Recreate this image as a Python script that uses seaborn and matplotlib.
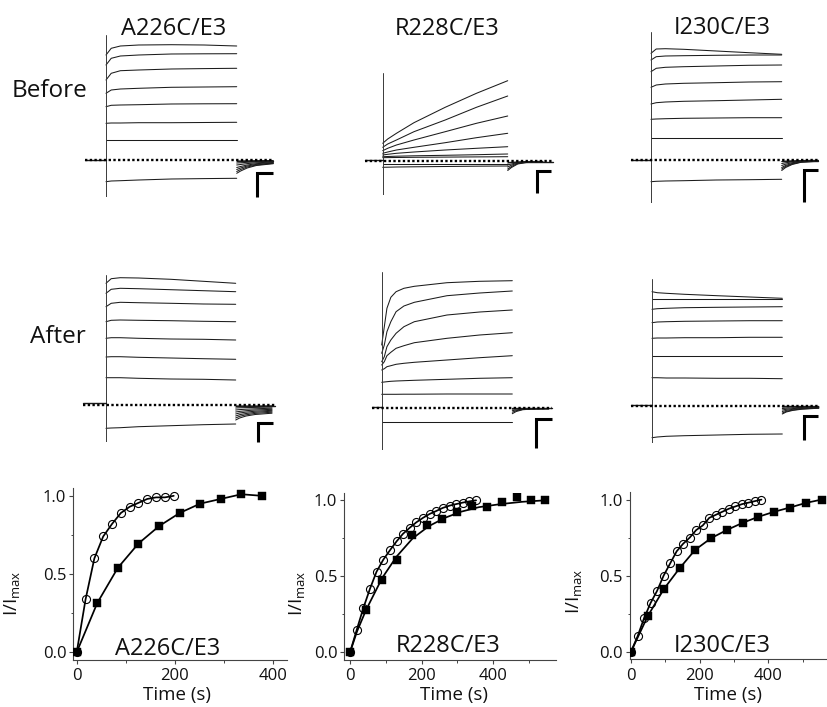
import matplotlib
matplotlib.use("Agg")
import matplotlib.pyplot as plt
import numpy as np
import pandas as pd
import seaborn as sns

# ---------------- data ----------------
MUTANTS = ["A226C/E3", "R228C/E3", "I230C/E3"]
CONDITIONS = ["Before", "After"]

# sample times of the current traces (ms)
STEP_T = [0, 40, 110, 250, 500, 750, 1000]
STEP_T_FINE = [0, 20, 40, 70, 110, 170, 250, 500, 750, 1000]
TAIL_T = [1000, 1030, 1080, 1150, 1280]

# current traces (arbitrary units, 0 = zero-current level)
A226C_BEFORE_STEPS = [
    [10.5, 11.17, 11.4, 11.5, 11.53, 11.5, 11.4],
    [9.5, 10.17, 10.4, 10.5, 10.6, 10.62, 10.63],
    [8.0, 8.67, 8.93, 9.0, 9.1, 9.14, 9.17],
    [6.67, 7.0, 7.1, 7.17, 7.27, 7.3, 7.33],
    [5.33, 5.47, 5.5, 5.53, 5.6, 5.62, 5.63],
    [3.67, 3.7, 3.7, 3.73, 3.73, 3.75, 3.77],
    [2.0, 2.0, 2.0, 2.0, 2.0, 2.0, 2.0],
    [-2.17, -2.1, -2.07, -2.0, -1.9, -1.86, -1.83],
]
A226C_BEFORE_TAILS = [
    [-0.1, -0.1, -0.08, -0.06, -0.05],
    [-0.3, -0.28, -0.23, -0.18, -0.12],
    [-0.5, -0.45, -0.36, -0.28, -0.2],
    [-0.75, -0.65, -0.5, -0.37, -0.25],
    [-0.95, -0.8, -0.6, -0.44, -0.3],
    [-1.15, -0.95, -0.7, -0.5, -0.33],
    [-1.33, -1.1, -0.8, -0.55, -0.37],
]
R228C_BEFORE_STEPS = [
    [1.77, 2.2, 2.77, 3.83, 5.37, 6.77, 8.03],
    [1.37, 1.7, 2.1, 2.93, 4.1, 5.37, 6.5],
    [1.03, 1.27, 1.6, 2.1, 2.93, 3.77, 4.5],
    [0.77, 0.9, 1.1, 1.37, 1.83, 2.33, 2.77],
    [0.6, 0.67, 0.77, 0.9, 1.1, 1.27, 1.43],
    [0.43, 0.45, 0.48, 0.52, 0.57, 0.63, 0.7],
    [0.33, 0.34, 0.35, 0.37, 0.39, 0.41, 0.43],
    [-0.3, -0.3, -0.3, -0.3, -0.3, -0.3, -0.3],
    [-0.63, -0.62, -0.6, -0.58, -0.55, -0.52, -0.5],
]
R228C_BEFORE_TAILS = [
    [-0.2, -0.15, -0.1, -0.05, -0.03],
    [-0.4, -0.3, -0.15, -0.08, -0.05],
    [-0.6, -0.42, -0.2, -0.1, -0.06],
    [-0.8, -0.55, -0.25, -0.12, -0.08],
    [-0.95, -0.65, -0.3, -0.15, -0.1],
]
I230C_BEFORE_STEPS = [
    [10.67, 11.1, 11.13, 11.07, 10.9, 10.73, 10.57],
    [10.0, 10.33, 10.4, 10.43, 10.47, 10.5, 10.5],
    [8.83, 9.17, 9.27, 9.33, 9.4, 9.47, 9.5],
    [7.27, 7.5, 7.6, 7.67, 7.73, 7.8, 7.83],
    [5.6, 5.73, 5.8, 5.87, 5.93, 6.0, 6.07],
    [4.07, 4.1, 4.13, 4.17, 4.2, 4.23, 4.23],
    [2.23, 2.23, 2.23, 2.23, 2.23, 2.23, 2.23],
    [-2.17, -2.13, -2.1, -2.07, -2.0, -1.97, -1.93],
]
I230C_BEFORE_TAILS = [
    [-0.15, -0.12, -0.08, -0.05, -0.03],
    [-0.35, -0.28, -0.18, -0.1, -0.06],
    [-0.55, -0.42, -0.27, -0.15, -0.08],
    [-0.75, -0.55, -0.35, -0.18, -0.1],
    [-0.9, -0.65, -0.4, -0.2, -0.12],
    [-1.05, -0.75, -0.45, -0.22, -0.13],
]
A226C_AFTER_STEPS = [
    [12.17, 12.63, 12.73, 12.7, 12.57, 12.37, 12.17],
    [11.17, 11.57, 11.67, 11.63, 11.53, 11.43, 11.33],
    [9.83, 10.17, 10.27, 10.23, 10.17, 10.1, 10.07],
    [8.33, 8.47, 8.5, 8.47, 8.43, 8.37, 8.33],
    [6.67, 6.73, 6.73, 6.67, 6.6, 6.57, 6.5],
    [4.8, 4.83, 4.83, 4.77, 4.7, 4.63, 4.57],
    [2.73, 2.73, 2.73, 2.67, 2.6, 2.57, 2.5],
    [-2.33, -2.3, -2.27, -2.17, -2.07, -1.97, -1.9],
]
A226C_AFTER_TAILS = [
    [-0.1, -0.1, -0.1, -0.1, -0.08],
    [-0.3, -0.28, -0.26, -0.24, -0.2],
    [-0.5, -0.46, -0.42, -0.38, -0.32],
    [-0.7, -0.64, -0.57, -0.5, -0.43],
    [-0.9, -0.8, -0.71, -0.62, -0.53],
    [-1.1, -0.97, -0.85, -0.73, -0.62],
    [-1.3, -1.13, -0.98, -0.84, -0.72],
    [-1.5, -1.3, -1.1, -0.95, -0.82],
]
R228C_AFTER_STEPS = [  # sampled at STEP_T_FINE
    [6.27, 8.1, 9.94, 11.04, 11.6, 11.94, 12.14, 12.5, 12.64, 12.7],
    [5.44, 6.27, 7.6, 8.6, 9.6, 10.17, 10.54, 11.2, 11.47, 11.67],
    [4.6, 5.1, 6.1, 6.77, 7.44, 8.1, 8.6, 9.27, 9.57, 9.77],
    [4.27, 4.6, 5.2, 5.54, 5.94, 6.2, 6.5, 6.94, 7.27, 7.5],
    [3.77, 3.9, 4.1, 4.2, 4.34, 4.44, 4.54, 4.77, 5.0, 5.2],
    [2.54, 2.57, 2.6, 2.64, 2.67, 2.7, 2.74, 2.84, 2.94, 3.0],
    [1.34, 1.34, 1.34, 1.34, 1.34, 1.35, 1.35, 1.37, 1.37, 1.37],
    [-1.4, -1.4, -1.4, -1.4, -1.4, -1.4, -1.4, -1.4, -1.4, -1.4],
]
R228C_AFTER_TAILS = [
    [-0.15, -0.12, -0.1, -0.1, -0.1],
    [-0.3, -0.22, -0.14, -0.12, -0.1],
    [-0.45, -0.3, -0.17, -0.13, -0.1],
    [-0.6, -0.38, -0.2, -0.14, -0.1],
]
I230C_AFTER_STEPS = [
    [11.43, 11.33, 11.27, 11.17, 11.03, 10.9, 10.77],
    [10.7, 10.7, 10.7, 10.7, 10.7, 10.7, 10.7],
    [9.67, 9.73, 9.77, 9.83, 9.87, 9.9, 9.93],
    [8.33, 8.4, 8.43, 8.47, 8.5, 8.53, 8.53],
    [6.77, 6.8, 6.8, 6.83, 6.83, 6.87, 6.87],
    [5.0, 5.0, 5.0, 5.0, 5.0, 5.0, 5.0],
    [2.83, 2.83, 2.8, 2.8, 2.77, 2.77, 2.73],
    [-3.17, -3.1, -3.03, -2.97, -2.9, -2.83, -2.8],
]
I230C_AFTER_TAILS = [
    [-0.1, -0.1, -0.08, -0.07, -0.05],
    [-0.25, -0.22, -0.18, -0.14, -0.1],
    [-0.4, -0.33, -0.26, -0.2, -0.15],
    [-0.55, -0.44, -0.33, -0.25, -0.18],
    [-0.7, -0.54, -0.4, -0.29, -0.2],
    [-0.8, -0.6, -0.44, -0.32, -0.22],
]

TRACES = {
    ("A226C/E3", "Before"): (STEP_T, A226C_BEFORE_STEPS, A226C_BEFORE_TAILS),
    ("R228C/E3", "Before"): (STEP_T, R228C_BEFORE_STEPS, R228C_BEFORE_TAILS),
    ("I230C/E3", "Before"): (STEP_T, I230C_BEFORE_STEPS, I230C_BEFORE_TAILS),
    ("A226C/E3", "After"): (STEP_T, A226C_AFTER_STEPS, A226C_AFTER_TAILS),
    ("R228C/E3", "After"): (STEP_T_FINE, R228C_AFTER_STEPS, R228C_AFTER_TAILS),
    ("I230C/E3", "After"): (STEP_T, I230C_AFTER_STEPS, I230C_AFTER_TAILS),
}

# time courses of modification (I/Imax)
A226C_CIRC_T = [0, 18, 36, 54, 72, 90, 108, 126, 144, 162, 180, 198]
A226C_CIRC_Y = [0, 0.337, 0.60, 0.74, 0.82, 0.89, 0.93, 0.955, 0.98, 0.99, 0.99, 1.0]
A226C_SQ_T = [0, 42, 84, 126, 168, 210, 252, 294, 336, 378]
A226C_SQ_Y = [0, 0.315, 0.54, 0.695, 0.806, 0.89, 0.95, 0.98, 1.01, 1.0]

R228C_CIRC_T = [0, 19, 37, 56, 74, 93, 111, 130, 148, 167, 185, 204, 222, 241, 259, 278, 296, 315, 333, 352]
R228C_CIRC_Y = [0, 0.15, 0.29, 0.42, 0.53, 0.61, 0.67, 0.73, 0.78, 0.82, 0.855, 0.885, 0.91, 0.93,
                0.95, 0.965, 0.975, 0.985, 0.993, 1.0]
R228C_SQ_T = [0, 45, 88, 130, 172, 215, 258, 300, 340, 382, 425, 465, 505, 545]
R228C_SQ_Y = [0, 0.28, 0.475, 0.605, 0.77, 0.835, 0.878, 0.92, 0.96, 0.955, 0.99, 1.02, 1.0, 1.0]
R228C_SQ_FIT_T = [0, 20, 45, 90, 130, 175, 220, 265, 310, 360, 420, 480, 545]
R228C_SQ_FIT_Y = [0, 0.14, 0.28, 0.49, 0.63, 0.75, 0.83, 0.885, 0.925, 0.955, 0.975, 0.99, 1.0]

I230C_CIRC_T = [0, 19, 38, 57, 76, 95, 114, 133, 152, 171, 190, 209, 228, 247, 266, 285, 304, 323, 342, 361, 380]
I230C_CIRC_Y = [0, 0.10, 0.22, 0.32, 0.40, 0.50, 0.58, 0.66, 0.71, 0.75, 0.80, 0.83, 0.88, 0.90,
                0.92, 0.94, 0.955, 0.97, 0.98, 0.99, 1.0]
I230C_SQ_T = [0, 49, 96, 142, 187, 233, 279, 326, 371, 417, 463, 509, 555]
I230C_SQ_Y = [0, 0.235, 0.413, 0.55, 0.67, 0.746, 0.80, 0.848, 0.887, 0.92, 0.948, 0.978, 1.0]

TIME_COURSES = {
    "A226C/E3": (A226C_CIRC_T, A226C_CIRC_Y, A226C_SQ_T, A226C_SQ_Y, A226C_SQ_T, A226C_SQ_Y),
    "R228C/E3": (R228C_CIRC_T, R228C_CIRC_Y, R228C_SQ_T, R228C_SQ_Y, R228C_SQ_FIT_T, R228C_SQ_FIT_Y),
    "I230C/E3": (I230C_CIRC_T, I230C_CIRC_Y, I230C_SQ_T, I230C_SQ_Y, I230C_SQ_T, I230C_SQ_Y),
}
X_TICKS = [0, 200, 400]
Y_TICKS = [0.0, 0.5, 1.0]
Y_TICK_LABELS = ["0.0", "0.5", "1.0"]

# ---------------- layout (pixels of the 827x707 canvas) ----------------
W, H = 827, 707
PXU = 10.0  # pixels per current unit
TRACE_LAYOUT = {
    ("A226C/E3", "Before"): dict(x0=106, x1=236.7, top=35, bottom=197, base=160, hold=85, end=273,
                                 sb=(257, 172.7, 196.7, 272.7), hold_level=0.05),
    ("R228C/E3", "Before"): dict(x0=382.7, x1=507.7, top=72.7, bottom=195, base=161, hold=365, end=553,
                                 sb=(536.7, 171, 193.3, 550.7), hold_level=0.08),
    ("I230C/E3", "Before"): dict(x0=651, x1=781.7, top=31.7, bottom=203, base=160, hold=630.7, end=818,
                                 sb=(804.3, 170, 201.7, 818), hold_level=0.05),
    ("A226C/E3", "After"): dict(x0=106, x1=235.7, top=275, bottom=441.7, base=405, hold=82.7, end=275,
                                sb=(257.7, 423.3, 441.7, 273.3), hold_level=0.22),
    ("R228C/E3", "After"): dict(x0=381.7, x1=512.3, top=271.7, bottom=450, base=407.7, hold=371.7, end=551.7,
                                sb=(535.7, 419, 448.3, 551.7), hold_level=0.05),
    ("I230C/E3", "After"): dict(x0=652, x1=782.3, top=279.3, bottom=442.7, base=406, hold=630.7, end=818.3,
                                sb=(804.3, 415.7, 440, 818.3), hold_level=0.05),
}
TC_LAYOUT = {
    "A226C/E3": dict(rect=(73.3, 488, 286.7, 660), xlim=(-7, 428.6), minor=[100, 300],
                     label=(167.5, 655), xlabel=(176.7, 700), ylabel=(13, 593)),
    "R228C/E3": dict(rect=(344.3, 492.7, 556, 660), xlim=(-15.9, 575), minor=[100, 300, 500],
                     label=(447.7, 651.7), xlabel=(454, 700), ylabel=(298, 593)),
    "I230C/E3": dict(rect=(630, 492, 826, 659.3), xlim=(-2.9, 568), minor=[100, 300, 500],
                     label=(722.5, 651.7), xlabel=(728.3, 700), ylabel=(575, 591)),
}
TITLE_POS = {"A226C/E3": (174, 35), "R228C/E3": (447.5, 35), "I230C/E3": (722.5, 34)}
ROW_POS = {"Before": (50, 97.3), "After": (57.5, 343.3)}

# ---------------- style ----------------
sns.set_theme(style="ticks")
plt.rcParams["font.family"] = ["Open Sans", "DejaVu Sans"]
plt.rcParams["mathtext.fontset"] = "custom"
plt.rcParams["mathtext.rm"] = "Open Sans"
TXT = "#111111"
TRACE_C = "#1c1c1c"

fig = plt.figure(figsize=(W / 100, H / 100), dpi=100)
fig.patch.set_facecolor("white")


def fig_rect(l, t, r, b):
    return [l / W, 1 - b / H, (r - l) / W, (b - t) / H]


def ftext(x, y, s, **kw):
    fig.text(x / W, 1 - y / H, s, color=TXT, **kw)


# ---------------- current traces ----------------
for key, lay in TRACE_LAYOUT.items():
    times, steps, tails = TRACES[key]
    x0, x1, base = lay["x0"], lay["x1"], lay["base"]
    ms_per_px = 1000.0 / (x1 - x0)
    ax = fig.add_axes(fig_rect(x0, lay["top"], x1, lay["bottom"]))
    rows = []
    for i, tr in enumerate(steps):
        rows += [("s%d" % i, t, v) for t, v in zip(times, tr)]
    for i, tr in enumerate(tails):
        rows += [("t%d" % i, t, v) for t, v in zip(TAIL_T, tr)]
    df = pd.DataFrame(rows, columns=["trace", "t", "I"])
    sns.lineplot(data=df, x="t", y="I", units="trace", estimator=None, color=TRACE_C,
                 lw=0.75, ax=ax, legend=False, clip_on=False)
    ax.set_xlim(0, 1000)
    ax.set_ylim((base - lay["bottom"]) / PXU, (base - lay["top"]) / PXU)
    ax.axis("off")
    ax.axvline(0, color="#3a3a3a", lw=0.7)
    ax.axvline(1000, color="#3a3a3a", lw=0.7)
    hold_t = (lay["hold"] - x0) * ms_per_px
    end_t = (lay["end"] - x0) * ms_per_px
    ax.plot([hold_t, 0], [lay["hold_level"]] * 2, color=TRACE_C, lw=1.0, clip_on=False)
    ax.plot([1000, end_t], [-0.05, -0.05], color=TRACE_C, lw=1.0, clip_on=False)
    ax.plot([hold_t, end_t], [0, 0], color="black", lw=1.7, ls=(0, (1.0, 1.0)),
            dash_capstyle="butt", clip_on=False)
    sx, st, sb, sr = lay["sb"]
    xs, xr = (sx - x0) * ms_per_px, (sr - x0) * ms_per_px
    yt, yb = (base - st) / PXU, (base - sb) / PXU
    ax.plot([xs, xs, xr], [yb, yt, yt], color="black", lw=2.2, solid_joinstyle="miter",
            solid_capstyle="butt", clip_on=False)

for mut, (x, y) in TITLE_POS.items():
    ftext(x, y, mut, ha="center", va="baseline", fontsize=17)
for cond, (x, y) in ROW_POS.items():
    ftext(x, y, cond, ha="center", va="baseline", fontsize=17.5)

# ---------------- time courses ----------------
for mut, lay in TC_LAYOUT.items():
    ct, cy, st, sy, ft, fy = TIME_COURSES[mut]
    ax = fig.add_axes(fig_rect(*lay["rect"]))
    sns.lineplot(x=ft, y=fy, color="black", lw=1.25, ax=ax, zorder=2)
    sns.lineplot(x=ct, y=cy, color="black", lw=1.25, marker="o", markersize=5.8,
                 markerfacecolor="none", markeredgecolor="black", markeredgewidth=0.8,
                 ax=ax, zorder=3)
    sns.scatterplot(x=st, y=sy, marker="s", s=28, color="black", edgecolor="black",
                    linewidth=0.3, ax=ax, zorder=4)
    ax.set_xlim(*lay["xlim"])
    ax.set_ylim(-0.05, 1.05)
    ax.set_xticks(X_TICKS)
    ax.set_xticks(lay["minor"], minor=True)
    ax.set_yticks(Y_TICKS)
    ax.set_yticklabels(Y_TICK_LABELS)
    ax.set_yticks([0.25, 0.75], minor=True)
    ax.tick_params(axis="both", which="major", direction="out", length=3, width=0.8,
                   color="#444444", labelsize=12, labelcolor=TXT, pad=2)
    ax.tick_params(axis="x", which="major", pad=3)
    ax.tick_params(axis="both", which="minor", direction="out", length=1.8, width=0.7,
                   color="#444444")
    for side in ("top", "right"):
        ax.spines[side].set_visible(False)
    for side in ("left", "bottom"):
        ax.spines[side].set_color("#444444")
        ax.spines[side].set_linewidth(0.8)
    ax.set_xlabel("")
    ax.set_ylabel("")
    ax.patch.set_alpha(0)
    lx, ly = lay["label"]
    ftext(lx, ly, mut, ha="center", va="baseline", fontsize=17)
    xx, xy = lay["xlabel"]
    ftext(xx, xy, "Time (s)", ha="center", va="baseline", fontsize=13.5)
    yx, yy = lay["ylabel"]
    ftext(yx, yy, r"I/I$_{\mathregular{max}}$", ha="center", va="center", rotation=90, fontsize=13.5)

fig.savefig("out.png", dpi=100, facecolor="white")
